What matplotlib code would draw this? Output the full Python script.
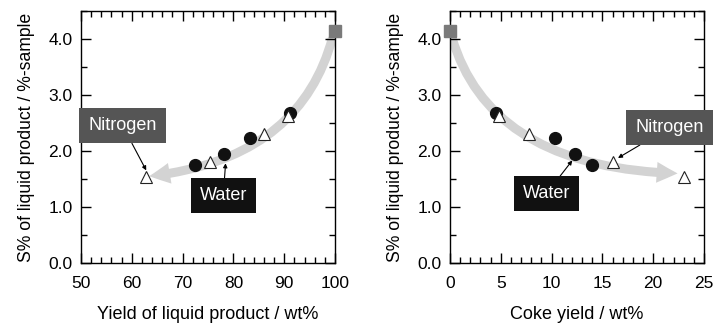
import matplotlib.pyplot as plt
from matplotlib.patches import FancyArrowPatch
from matplotlib.path import Path
from matplotlib.ticker import MultipleLocator

plt.rcParams['font.family'] = ['Liberation Sans', 'DejaVu Sans']

# feed (no reaction)
feed_s = 4.15
feed_yield = 100
feed_coke = 0

# water atmosphere
water_yield = [72.5, 78.2, 83.3, 91.2]
water_coke = [14.0, 12.3, 10.3, 4.5]
water_s = [1.75, 1.95, 2.24, 2.68]

# nitrogen atmosphere
n2_yield = [62.8, 75.3, 86.0, 90.7]
n2_coke = [23.0, 16.0, 7.8, 4.8]
n2_s = [1.53, 1.80, 2.30, 2.62]

# guide arrows (quadratic bezier: start, control, end)
guide_left = [(99.5, 4.02), (93.0, 1.85), (63.4, 1.55)]
guide_right = [(0.2, 4.02), (4.0, 1.70), (22.4, 1.60)]

fig = plt.figure(figsize=(7.13, 3.24), dpi=100)
ax1 = fig.add_axes([81 / 713, 61 / 324, 254 / 713, 252 / 324])
ax2 = fig.add_axes([450 / 713, 61 / 324, 254 / 713, 252 / 324])


def style(ax, xlim, xmaj, xmin, xlabel):
    ax.set_xlim(*xlim)
    ax.set_ylim(0, 4.5)
    ax.xaxis.set_major_locator(MultipleLocator(xmaj))
    ax.xaxis.set_minor_locator(MultipleLocator(xmin))
    ax.yaxis.set_major_locator(MultipleLocator(1))
    ax.yaxis.set_minor_locator(MultipleLocator(0.5))
    ax.yaxis.set_major_formatter(lambda v, p: f'{v:.1f}')
    ax.tick_params(which='both', direction='in', top=True, right=True,
                   labelsize=12.5, width=1)
    ax.tick_params(which='major', length=7)
    ax.tick_params(which='minor', length=4)
    ax.tick_params(axis='x', which='major', pad=9)
    ax.tick_params(axis='y', which='major', pad=6)
    ax.set_xlabel(xlabel, fontsize=13, labelpad=11)
    ax.set_ylabel('S% of liquid product / %-sample', fontsize=12.7, labelpad=9.5)
    for s in ax.spines.values():
        s.set_linewidth(1)


def guide(ax, pts):
    path = Path(pts, [Path.MOVETO, Path.CURVE3, Path.CURVE3])
    arr = FancyArrowPatch(path=path, color='#d3d3d3', lw=0,
                          arrowstyle='simple,tail_width=6.5,head_width=15,head_length=15',
                          zorder=1)
    ax.add_patch(arr)


def label(ax, text, xy, xytext, fc):
    ax.annotate(text, xy=xy, xytext=xytext, fontsize=13, color='white',
                ha='center', va='center', annotation_clip=False,
                bbox=dict(boxstyle='square,pad=0.5', fc=fc, ec='none'),
                arrowprops=dict(arrowstyle='-|>', color='black', lw=0.8,
                                mutation_scale=6, shrinkA=0, shrinkB=2),
                zorder=5)


# left: yield of liquid product
style(ax1, (50, 100), 10, 2, 'Yield of liquid product / wt%')
guide(ax1, guide_left)
ax1.plot(water_yield, water_s, 'o', color='#111111', ms=8.5, zorder=3)
ax1.plot(n2_yield, n2_s, '^', mfc='white', mec='#222222', mew=0.8, ms=8.5, zorder=3)
ax1.plot([feed_yield], [feed_s], 's', color='#7a7a7a', ms=8, clip_on=False, zorder=4)
label(ax1, 'Nitrogen', (n2_yield[0] + 0.3, n2_s[0] + 0.08), (58.2, 2.45), '#555555')
label(ax1, 'Water', (water_yield[1] + 0.3, water_s[1] - 0.12), (78.0, 1.2), '#111111')

# right: coke yield
style(ax2, (0, 25), 5, 1, 'Coke yield / wt%')
guide(ax2, guide_right)
ax2.plot(water_coke, water_s, 'o', color='#111111', ms=8.5, zorder=3)
ax2.plot(n2_coke, n2_s, '^', mfc='white', mec='#222222', mew=0.8, ms=8.5, zorder=3)
ax2.plot([feed_coke], [feed_s], 's', color='#7a7a7a', ms=8, clip_on=False, zorder=4)
label(ax2, 'Nitrogen', (n2_coke[1] + 0.3, n2_s[1] + 0.05), (21.6, 2.42), '#555555')
label(ax2, 'Water', (water_coke[1] - 0.1, water_s[1] - 0.08), (9.5, 1.24), '#111111')

fig.savefig('out.png', dpi=100)
